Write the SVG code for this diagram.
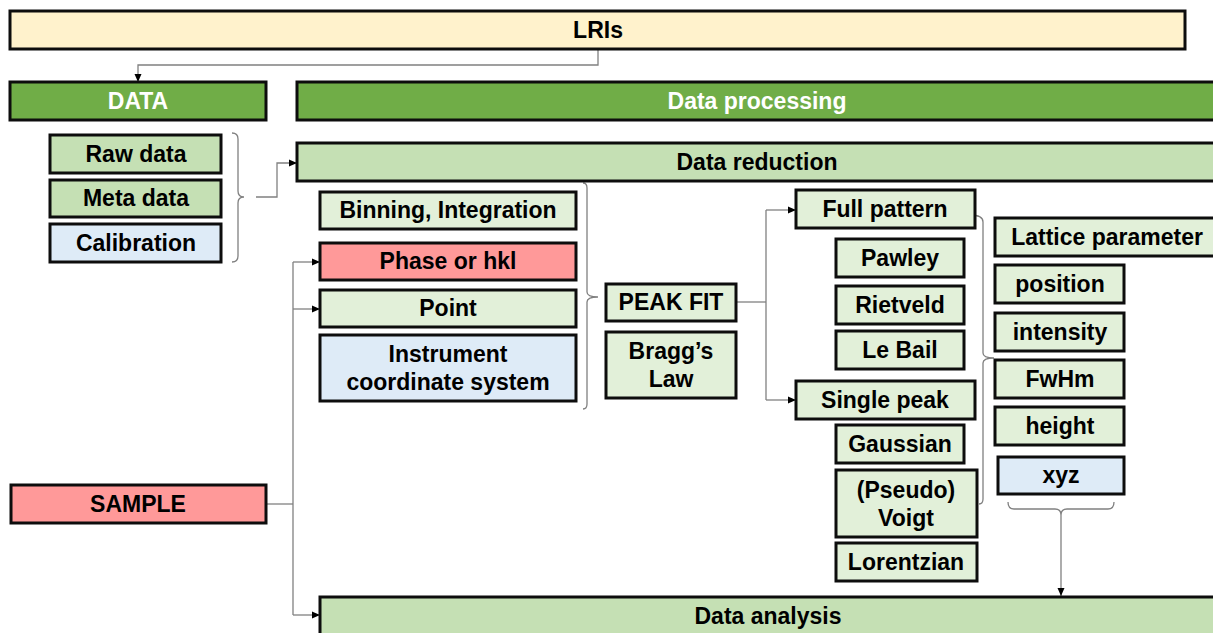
<svg xmlns="http://www.w3.org/2000/svg" width="1213" height="633" viewBox="0 0 1213 633">
  <defs>
    <marker id="arrow" viewBox="0 0 8 8" refX="8" refY="4" markerWidth="8" markerHeight="8" markerUnits="userSpaceOnUse" orient="auto">
      <path d="M0,0.5 L8,4 L0,7.5 Z" fill="#000"/>
    </marker>
    <style>
      .box { stroke: #0d0d0d; stroke-width: 3; }
      .cream { fill: #fff2cc; }
      .dark { fill: #70ad47; }
      .mid { fill: #c5e0b4; }
      .light { fill: #e2f0d9; }
      .blue { fill: #deebf7; }
      .red { fill: #ff9999; }
      text { font-family: "Liberation Sans", Arial, sans-serif; font-weight: bold; font-size: 23px; fill: #000; text-anchor: middle; }
      text.white { fill: #ffffff; }
      .wire { fill: none; stroke: #808080; stroke-width: 1.3; }
    </style>
  </defs>
  <rect width="1213" height="633" fill="#ffffff"/>

  <!-- connectors -->
  <g id="connectors">
    <path class="wire" d="M598,49 V65 H138 V82" marker-end="url(#arrow)"/>
    <!-- brace over raw data / meta data / calibration -->
    <path class="wire" d="M232,133 Q238,133 238,139 V191 Q238,197 244,197 Q238,197 238,203 V256 Q238,262 232,262"/>
    <path class="wire" d="M256,197 H277 V163 H297" marker-end="url(#arrow)"/>
    <!-- brace over reduction steps -->
    <path class="wire" d="M583,183 Q587,183 587,188 V292 Q587,297 598,297 Q587,297 587,302 V404 Q587,409 583,409"/>
    <!-- peak fit branches -->
    <path class="wire" d="M736,302 H766"/>
    <path class="wire" d="M766,210 V400"/>
    <path class="wire" d="M766,210 H796" marker-end="url(#arrow)"/>
    <path class="wire" d="M766,400 H796" marker-end="url(#arrow)"/>
    <!-- brace over fit methods -->
    <path class="wire" d="M970,215 Q983,215 983,222 V353 Q983,358 994,358 Q983,358 983,363 V499 Q983,504 979,504"/>
    <!-- brace under fit results -->
    <path class="wire" d="M1008,502 Q1008,509 1014,509 H1055 Q1061,509 1061,515 Q1061,509 1067,509 H1108 Q1114,509 1114,502"/>
    <path class="wire" d="M1061,515 V596" marker-end="url(#arrow)"/>
    <!-- sample branches -->
    <path class="wire" d="M266,504 H293"/>
    <path class="wire" d="M293,262 V615"/>
    <path class="wire" d="M293,262 H320" marker-end="url(#arrow)"/>
    <path class="wire" d="M293,309 H320" marker-end="url(#arrow)"/>
    <path class="wire" d="M293,615 H320" marker-end="url(#arrow)"/>
  </g>

  <g id="lris"><rect class="box cream" x="10" y="11" width="1175" height="38"/><text x="598" y="38">LRIs</text></g>
  <g id="data"><rect class="box dark" x="10" y="82" width="256" height="38"/><text class="white" x="138" y="109">DATA</text></g>
  <g id="data-processing"><rect class="box dark" x="297" y="82" width="925" height="38"/><text class="white" x="757" y="109">Data processing</text></g>

  <g id="raw-data"><rect class="box mid" x="50" y="135" width="171" height="38"/><text x="136" y="162">Raw data</text></g>
  <g id="meta-data"><rect class="box mid" x="50" y="180" width="171" height="37"/><text x="136" y="206">Meta data</text></g>
  <g id="calibration"><rect class="box blue" x="50" y="224" width="171" height="38"/><text x="136" y="251">Calibration</text></g>

  <g id="data-reduction"><rect class="box mid" x="297" y="143" width="925" height="38"/><text x="757" y="170">Data reduction</text></g>

  <g id="binning"><rect class="box light" x="320" y="192" width="256" height="37"/><text x="448" y="218">Binning, Integration</text></g>
  <g id="phase"><rect class="box red" x="320" y="243" width="256" height="37"/><text x="448" y="269">Phase or hkl</text></g>
  <g id="point"><rect class="box light" x="320" y="290" width="256" height="37"/><text x="448" y="316">Point</text></g>
  <g id="instrument"><rect class="box blue" x="320" y="335" width="256" height="66"/><text x="448" y="362">Instrument</text><text x="448" y="390">coordinate system</text></g>

  <g id="sample"><rect class="box red" x="11" y="485" width="255" height="38"/><text x="138" y="512">SAMPLE</text></g>

  <g id="peak-fit"><rect class="box light" x="606" y="284" width="130" height="37"/><text x="671" y="310">PEAK FIT</text></g>
  <g id="bragg"><rect class="box light" x="606" y="332" width="130" height="66"/><text x="671" y="359">Bragg’s</text><text x="671" y="387">Law</text></g>

  <g id="full-pattern"><rect class="box light" x="796" y="190" width="179" height="38"/><text x="885" y="217">Full pattern</text></g>
  <g id="pawley"><rect class="box light" x="836" y="239" width="128" height="38"/><text x="900" y="266">Pawley</text></g>
  <g id="rietveld"><rect class="box light" x="836" y="286" width="128" height="38"/><text x="900" y="313">Rietveld</text></g>
  <g id="le-bail"><rect class="box light" x="836" y="331" width="128" height="38"/><text x="900" y="358">Le Bail</text></g>
  <g id="single-peak"><rect class="box light" x="796" y="381" width="179" height="38"/><text x="885" y="408">Single peak</text></g>
  <g id="gaussian"><rect class="box light" x="836" y="425" width="128" height="38"/><text x="900" y="452">Gaussian</text></g>
  <g id="voigt"><rect class="box light" x="836" y="470" width="141" height="67"/><text x="906" y="498">(Pseudo)</text><text x="906" y="526">Voigt</text></g>
  <g id="lorentzian"><rect class="box light" x="836" y="543" width="141" height="38"/><text x="906" y="570">Lorentzian</text></g>

  <g id="lattice"><rect class="box light" x="995" y="218" width="228" height="38"/><text x="1107" y="245">Lattice parameter</text></g>
  <g id="position"><rect class="box light" x="995" y="265" width="129" height="38"/><text x="1060" y="292">position</text></g>
  <g id="intensity"><rect class="box light" x="995" y="313" width="129" height="38"/><text x="1060" y="340">intensity</text></g>
  <g id="fwhm"><rect class="box light" x="995" y="360" width="129" height="38"/><text x="1060" y="387">FwHm</text></g>
  <g id="height"><rect class="box light" x="995" y="407" width="129" height="38"/><text x="1060" y="434">height</text></g>
  <g id="xyz"><rect class="box blue" x="998" y="457" width="126" height="37"/><text x="1061" y="483">xyz</text></g>

  <g id="data-analysis"><rect class="box mid" x="320" y="597" width="902" height="40"/><text x="768" y="624">Data analysis</text></g>
</svg>
